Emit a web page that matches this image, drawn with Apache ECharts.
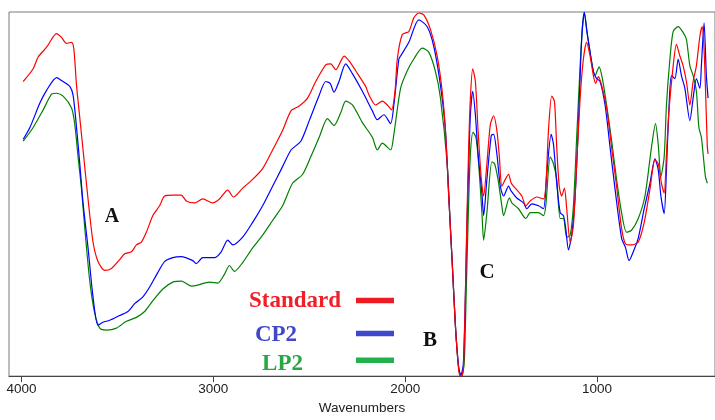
<!DOCTYPE html>
<html>
<head>
<meta charset="utf-8">
<script src="https://cdn.jsdelivr.net/npm/echarts@6/dist/echarts.min.js"></script>
<style>html,body{margin:0;padding:0;background:#fff;}#c{width:715px;height:420px;}</style>
</head>
<body>
<div id="c"></div>
<script>
// Series names
var seriesNames = ['Standard', 'CP2', 'LP2'];
// x tick labels (wavenumbers, cm-1)
var xTicks = [1000, 2000, 3000, 4000];
// Peak labels
var peakLabels = ['A', 'B', 'C'];

// [wavenumber, transmittance (arbitrary units)]
var standardData = [[3991,302],[3939,315],[3913,327],[3869,337],[3817,351],[3791,347],[3765,341],[3739,342],[3727,335],[3713,298],[3696,265],[3679,232],[3653,182],[3627,138],[3601,118],[3566,109],[3531,111],[3488,120],[3462,126],[3427,128],[3401,135],[3375,138],[3349,148],[3315,165],[3280,175],[3254,185],[3211,186],[3167,186],[3141,180],[3098,178],[3055,182],[3003,178],[2968,182],[2925,191],[2895,184],[2847,193],[2795,202],[2743,213],[2691,232],[2639,252],[2595,272],[2552,277],[2509,285],[2466,302],[2414,319],[2388,320],[2362,314],[2318,328],[2292,323],[2258,313],[2206,297],[2188,288],[2154,278],[2119,282],[2093,278],[2071,273],[2053,292],[2041,325],[2015,350],[1981,353],[1955,367],[1929,372],[1903,370],[1868,355],[1833,328],[1807,292],[1790,252],[1773,185],[1755,118],[1738,52],[1721,7],[1710,-1],[1697,7],[1686,85],[1678,162],[1669,235],[1660,285],[1648,315],[1634,302],[1620,252],[1603,202],[1591,185],[1574,218],[1556,258],[1539,267],[1522,252],[1509,225],[1496,195],[1478,202],[1461,207],[1447,198],[1426,193],[1392,185],[1371,175],[1348,180],[1314,184],[1279,182],[1267,195],[1253,252],[1236,287],[1222,282],[1210,235],[1197,195],[1184,185],[1170,193],[1158,172],[1140,138],[1123,155],[1106,218],[1088,285],[1071,325],[1054,342],[1036,328],[1019,308],[1007,300],[993,307],[976,298],[950,275],[924,235],[898,195],[872,152],[851,136],[820,135],[785,138],[754,158],[724,192],[698,222],[681,218],[664,198],[650,188],[638,228],[625,272],[603,318],[586,340],[568,328],[551,318],[534,302],[516,278],[499,302],[482,318],[464,348],[452,358],[442,335],[433,285],[425,235],[421,228]];

var cp2Data = [[3991,243],[3956,255],[3904,280],[3869,293],[3817,306],[3791,303],[3748,297],[3731,288],[3713,255],[3696,218],[3679,178],[3653,132],[3627,82],[3601,53],[3575,56],[3540,58],[3488,63],[3445,67],[3410,75],[3367,82],[3332,92],[3289,107],[3254,118],[3211,122],[3167,123],[3107,119],[3089,116],[3055,122],[2994,122],[2959,128],[2925,140],[2899,135],[2847,143],[2795,158],[2743,175],[2691,195],[2639,215],[2595,232],[2544,241],[2500,262],[2448,288],[2414,302],[2391,300],[2371,291],[2345,302],[2310,320],[2275,310],[2223,292],[2171,272],[2145,263],[2111,268],[2076,259],[2059,278],[2033,325],[2024,328],[1981,342],[1929,365],[1885,358],[1851,338],[1816,298],[1790,252],[1773,185],[1755,118],[1738,52],[1721,10],[1710,2],[1697,13],[1686,85],[1678,155],[1669,215],[1660,268],[1648,292],[1634,268],[1620,228],[1600,188],[1591,165],[1574,202],[1551,247],[1539,248],[1522,228],[1504,195],[1487,185],[1461,195],[1447,190],[1418,183],[1383,178],[1366,172],[1340,177],[1305,175],[1279,172],[1262,208],[1239,248],[1227,238],[1210,198],[1192,168],[1175,165],[1163,152],[1149,130],[1132,145],[1114,185],[1097,258],[1080,345],[1066,373],[1054,355],[1036,332],[1019,312],[1002,305],[984,302],[958,278],[932,235],[906,192],[872,142],[851,132],[833,119],[811,128],[785,142],[754,172],[724,198],[698,223],[681,212],[667,185],[650,167],[638,212],[625,275],[612,308],[594,305],[577,325],[560,308],[542,295],[516,262],[499,285],[482,305],[464,295],[456,318],[442,362],[430,308],[421,285]];

var lp2Data = [[3991,241],[3939,255],[3887,273],[3843,289],[3817,290],[3783,287],[3739,275],[3722,258],[3705,225],[3687,192],[3670,152],[3644,98],[3618,65],[3592,50],[3557,48],[3505,50],[3453,57],[3401,61],[3358,67],[3315,78],[3263,90],[3211,97],[3167,98],[3115,93],[3081,94],[3020,97],[2977,96],[2942,105],[2916,114],[2890,108],[2847,117],[2795,132],[2743,145],[2691,160],[2639,175],[2587,198],[2535,207],[2492,225],[2448,245],[2405,264],[2371,257],[2336,270],[2310,282],[2275,278],[2223,260],[2171,245],[2145,232],[2119,239],[2076,232],[2059,248],[2024,295],[1989,313],[1955,325],[1911,336],[1877,332],[1842,312],[1816,285],[1781,218],[1764,152],[1749,95],[1734,40],[1718,5],[1705,1],[1692,15],[1682,85],[1671,165],[1660,228],[1646,250],[1631,245],[1617,218],[1600,168],[1591,140],[1574,168],[1548,220],[1534,218],[1516,202],[1496,175],[1487,165],[1457,183],[1444,178],[1409,172],[1371,162],[1348,168],[1305,168],[1279,165],[1267,175],[1244,225],[1227,218],[1210,202],[1192,162],[1175,162],[1158,143],[1140,145],[1123,175],[1106,245],[1088,318],[1076,358],[1066,372],[1049,348],[1028,322],[1010,308],[989,317],[972,305],[950,278],[924,242],[898,202],[872,168],[846,148],[820,150],[785,162],[750,185],[716,235],[695,259],[681,238],[667,205],[650,225],[638,278],[620,325],[603,353],[577,358],[551,352],[534,345],[516,318],[499,308],[482,292],[469,255],[456,245],[447,228],[435,205],[425,198]];

var lineColors = ['#ff0000', '#0000ff', '#008000'];
var legendTextColors = ['#f0202a', '#4048c8', '#28a845'];
var legendBarColors = ['#ed1c24', '#3f48cc', '#22b14c'];

var chart = echarts.init(document.getElementById('c'), null, {renderer: 'canvas'});
var serif = '"Liberation Serif", "Times New Roman", serif';
var sans = '"Liberation Sans", Arial, sans-serif';

function mkSeries(name, data, color, z) {
  return {
    name: name, type: 'line', data: data, showSymbol: false, symbol: 'none',
    smooth: 0.25, z: z, animation: false,
    lineStyle: {color: color, width: 1.2}
  };
}

var option = {
  animation: false,
  backgroundColor: '#fff',
  grid: {left: 9, right: -2, top: 12, bottom: 36, show: true, borderColor: '#7a7a7a', borderWidth: 1, backgroundColor: 'transparent'},
  xAxis: {
    type: 'value', inverse: true, min: 385, max: 4065,
    axisLine: {show: true, onZero: false, lineStyle: {color: '#444', width: 1}},
    axisTick: {show: true, customValues: xTicks, length: 6, lineStyle: {color: '#444'}},
    axisLabel: {customValues: xTicks, formatter: function (v) { return String(v); }, fontFamily: sans, fontSize: 13.5, color: '#222', margin: 6},
    splitLine: {show: false},
    name: 'Wavenumbers', nameLocation: 'middle', nameGap: 21,
    nameTextStyle: {fontFamily: sans, fontSize: 13.5, color: '#222'}
  },
  yAxis: {type: 'value', min: 1, max: 373, show: false},
  series: [
    mkSeries(seriesNames[2], lp2Data, lineColors[2], 2),
    mkSeries(seriesNames[1], cp2Data, lineColors[1], 3),
    mkSeries(seriesNames[0], standardData, lineColors[0], 4)
  ],
  graphic: [
    {type: 'text', x: 112, y: 217, z: 10, style: {text: peakLabels[0], font: 'bold 20px ' + serif, fill: '#111', align: 'center', verticalAlign: 'middle'}},
    {type: 'text', x: 430, y: 341, z: 10, style: {text: peakLabels[1], font: 'bold 21px ' + serif, fill: '#111', align: 'center', verticalAlign: 'middle'}},
    {type: 'text', x: 487, y: 273, z: 10, style: {text: peakLabels[2], font: 'bold 21px ' + serif, fill: '#111', align: 'center', verticalAlign: 'middle'}},
    {type: 'text', x: 295, y: 301, z: 10, style: {text: seriesNames[0], font: 'bold 23px ' + serif, fill: legendTextColors[0], align: 'center', verticalAlign: 'middle'}},
    {type: 'text', x: 276, y: 335, z: 10, style: {text: seriesNames[1], font: 'bold 23px ' + serif, fill: legendTextColors[1], align: 'center', verticalAlign: 'middle'}},
    {type: 'text', x: 282.5, y: 364.5, z: 10, style: {text: seriesNames[2], font: 'bold 23px ' + serif, fill: legendTextColors[2], align: 'center', verticalAlign: 'middle'}},
    {type: 'rect', z: 10, shape: {x: 356, y: 297.7, width: 38, height: 5.5}, style: {fill: legendBarColors[0]}},
    {type: 'rect', z: 10, shape: {x: 356, y: 330.7, width: 38, height: 5.5}, style: {fill: legendBarColors[1]}},
    {type: 'rect', z: 10, shape: {x: 356, y: 357.4, width: 38, height: 5.5}, style: {fill: legendBarColors[2]}}
  ]
};
chart.setOption(option);
</script>
</body>
</html>
